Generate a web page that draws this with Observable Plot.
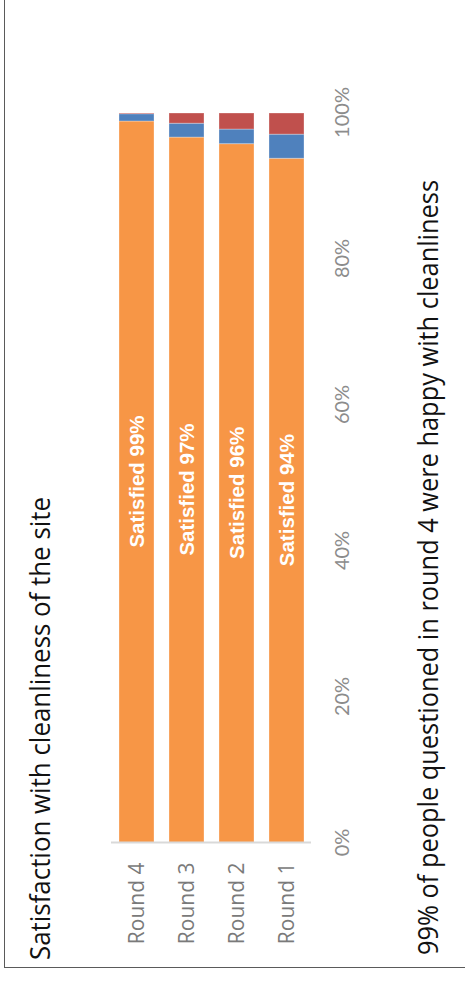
<!DOCTYPE html>
<html><head><meta charset="utf-8">
<script src="https://cdn.jsdelivr.net/npm/d3@7"></script>
<script src="https://cdn.jsdelivr.net/npm/@observablehq/plot@0.6"></script>
<style>
html,body{margin:0;padding:0;background:#fff;overflow:hidden}
#page{position:relative;width:465px;height:989px;overflow:hidden;background:#fff}
#rot{position:absolute;left:0;top:0;width:989px;height:465px;transform-origin:0 0;transform:translateY(989px) rotate(-90deg);}
#frame{position:absolute;left:21px;top:4px;right:-20px;bottom:-20px;border-top:1.5px solid #5a5a5a;border-left:1.5px solid #5a5a5a}
#chart{position:absolute;left:0;top:0}
.t{position:absolute;white-space:nowrap;font-family:"Open Sans",sans-serif;color:#111;line-height:1;font-size:27px;transform-origin:0 0}
</style>
</head><body>
<div id="page"><div id="rot">
<div id="frame"></div>
<div id="chart"></div>
<div class="t" id="title" style="left:29px;top:26px">Satisfaction with cleanliness of the site</div>
<div class="t" id="caption" style="left:34px;top:414px">99% of people questioned in round 4 were happy with cleanliness</div>
</div></div>
<script>
const rounds = ["Round 4", "Round 3", "Round 2", "Round 1"];
const seriesNames = ["Satisfied", "Neither", "Dissatisfied"];
const seriesColors = ["#F79646", "#4F81BD", "#C0504D"];
const satisfied = [98.9, 96.7, 95.8, 93.8];
const neither = [1.0, 1.9, 2.0, 3.3];
const dissatisfied = [0.1, 1.4, 2.2, 2.9];
const barLabels = ["Satisfied 99%", "Satisfied 97%", "Satisfied 96%", "Satisfied 94%"];
const tickValues = [0, 20, 40, 60, 80, 100];
const tickLabels = ["0%", "20%", "40%", "60%", "80%", "100%"];

const seriesValues = [satisfied, neither, dissatisfied];
const table = [];
rounds.forEach((r, i) => seriesNames.forEach((s, j) => table.push({round: r, series: s, value: seriesValues[j][i]})));
const labelTable = rounds.map((r, i) => ({round: r, sat: satisfied[i], label: barLabels[i]}));

const chart = Plot.plot({
  width: 989, height: 465,
  marginLeft: 146, marginRight: 113, marginTop: 111, marginBottom: 154,
  style: {background: "transparent"},
  x: {domain: [0, 100], axis: null},
  y: {domain: rounds, axis: null, paddingInner: 0.3, paddingOuter: 0.15},
  color: {domain: seriesNames, range: seriesColors},
  marks: [
    Plot.barX(table, Plot.stackX({x: "value", y: "round", fill: "series", order: seriesNames, stroke: "white", strokeOpacity: 0.3, strokeWidth: 1})),
    Plot.ruleX([0], {stroke: "#d9d9d9", strokeWidth: 2}),
    Plot.text(labelTable, {x: d => d.sat / 2, y: "round", text: "label", fill: "white", fontWeight: "bold", fontSize: 20.5, fontFamily: "Liberation Sans, Arial, sans-serif"}),
    Plot.axisX(tickValues, {tickSize: 0, tickPadding: 23, label: null, tickFormat: d => tickLabels[tickValues.indexOf(d)], fontSize: 20, fontFamily: "Lato, sans-serif", fill: "#8c8c8c"}),
    Plot.axisY({tickSize: 0, tickPadding: 20, label: null, fontSize: 21, fontFamily: "Open Sans, sans-serif", fill: "#7a7a7a"})
  ]
});
document.getElementById("chart").appendChild(chart);

// condense title/caption to the reference's text lengths (narrow font emulation)
function fit(id, len) {
  const el = document.getElementById(id);
  const w = el.getBoundingClientRect().height; // rotated: text length is vertical on page
  if (w > 0) el.style.transform = `scaleX(${len / w})`;
}
fit("title", 463);
fit("caption", 775);
</script>
</body></html>
